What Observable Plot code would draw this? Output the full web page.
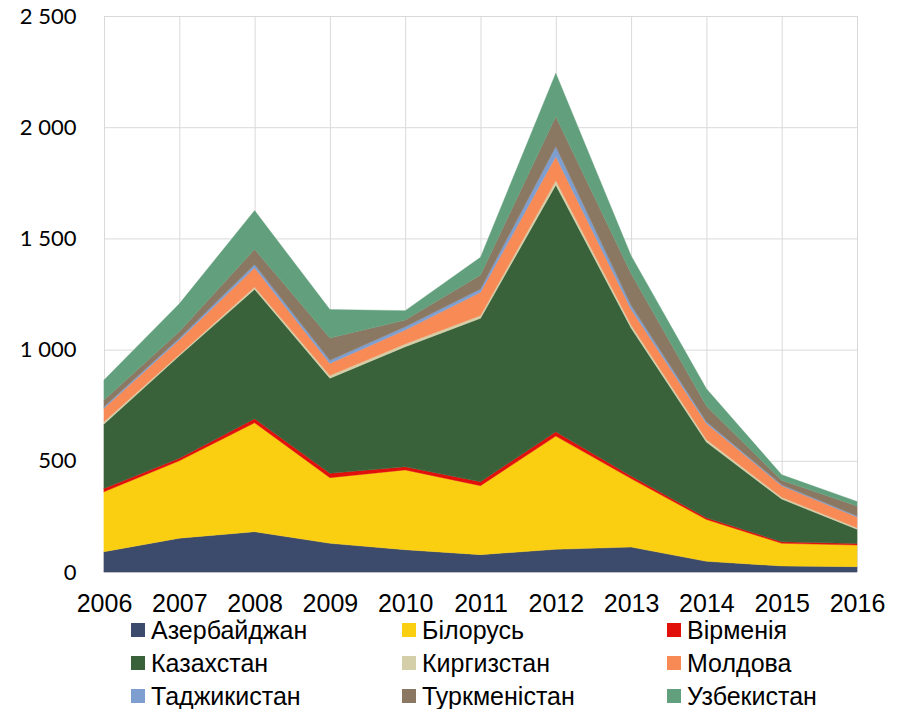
<!DOCTYPE html>
<html>
<head>
<meta charset="utf-8">
<script src="https://cdn.jsdelivr.net/npm/d3@7"></script>
<script src="https://cdn.jsdelivr.net/npm/@observablehq/plot@0.6"></script>
<style>
  html, body { margin: 0; padding: 0; background: #fff; }
  #wrap { position: relative; width: 902px; height: 709px; overflow: hidden; }
  #wrap svg { position: absolute; left: 0; top: 0; }
  .leg { position: absolute; display: flex; align-items: center; font-family: "Liberation Sans Narrow", "Arial Narrow", sans-serif; font-size: 25px; color: #000; white-space: nowrap; line-height: 1; }
  .sw { width: 14px; height: 14px; margin-right: 6px; flex: none; }
</style>
</head>
<body>
<div id="wrap"></div>
<script>
const years = [2006, 2007, 2008, 2009, 2010, 2011, 2012, 2013, 2014, 2015, 2016];
const countries = ["Азербайджан", "Білорусь", "Вірменія", "Казахстан", "Киргизстан", "Молдова", "Таджикистан", "Туркменістан", "Узбекистан"];
const colors = ["#3C4A6C", "#FACF12", "#E1100A", "#39623B", "#D5CFA9", "#F78A55", "#7E9ED0", "#8B7862", "#62A07D"];

const azerbaijan   = [91, 152, 181, 129, 100, 78, 102, 112, 48, 27, 24];
const belarus      = [270, 348, 490, 295, 359, 310, 509, 308, 188, 102, 97];
const armenia      = [15, 12, 18, 20, 14, 18, 20, 12, 8, 7, 7];
const kazakhstan   = [289, 460, 582, 427, 540, 735, 1109, 665, 340, 192, 64];
const kyrgyzstan   = [11, 6, 10, 12, 12, 12, 20, 14, 12, 8, 7];
const moldova      = [60, 65, 87, 55, 63, 105, 108, 70, 72, 52, 48];
const tajikistan   = [7, 8, 15, 14, 15, 15, 45, 18, 8, 4, 5];
const turkmenistan = [30, 30, 68, 100, 30, 62, 135, 143, 70, 20, 45];
const uzbekistan   = [90, 125, 174, 128, 42, 80, 195, 80, 78, 25, 20];

const yTicks = [0, 500, 1000, 1500, 2000, 2500];

const series = [azerbaijan, belarus, armenia, kazakhstan, kyrgyzstan, moldova, tajikistan, turkmenistan, uzbekistan];
const data = [];
countries.forEach((c, i) => years.forEach((y, j) => data.push({country: c, year: y, value: series[i][j]})));

const fmt = d => d3.format(",")(d).replace(/,/g, " ");

const chart = Plot.plot({
  width: 902,
  height: 625,
  marginLeft: 104,
  marginRight: 45,
  marginTop: 16,
  marginBottom: 53,
  style: {background: "transparent"},
  x: {domain: [2006, 2016], axis: null},
  y: {domain: [0, 2500], axis: null},
  color: {domain: countries, range: colors},
  marks: [
    Plot.gridY(yTicks, {stroke: "#d9d9d9", strokeOpacity: 1, strokeWidth: 1}),
    Plot.gridX(years, {stroke: "#d9d9d9", strokeOpacity: 1, strokeWidth: 1}),
    Plot.areaY(data, {x: "year", y: "value", z: "country", fill: "country", order: countries, stroke: "country", strokeWidth: 0.4}),
    Plot.ruleY([0], {stroke: "#bfbfbf", strokeWidth: 1.2}),
    Plot.axisY(yTicks, {label: null, tickSize: 0, tickPadding: 28, tickFormat: fmt, fontSize: 22, fontFamily: "Lato, Carlito, sans-serif", fill: "#000"}),
    Plot.axisX(years, {label: null, tickSize: 0, tickPadding: 22, tickFormat: d => String(d), fontSize: 25, fontFamily: "'Liberation Sans Narrow', 'Arial Narrow', sans-serif", fill: "#000"})
  ]
});

const wrap = document.getElementById("wrap");
wrap.appendChild(chart);

const legX = [131, 402, 667];
const legY = [630, 663, 696];
countries.forEach((c, i) => {
  const d = document.createElement("div");
  d.className = "leg";
  d.style.left = legX[i % 3] + "px";
  d.style.top = (legY[Math.floor(i / 3)] - 13) + "px";
  d.style.height = "26px";
  const s = document.createElement("span");
  s.className = "sw";
  s.style.background = colors[i];
  const t = document.createElement("span");
  t.textContent = c;
  d.appendChild(s);
  d.appendChild(t);
  wrap.appendChild(d);
});
</script>
</body>
</html>
